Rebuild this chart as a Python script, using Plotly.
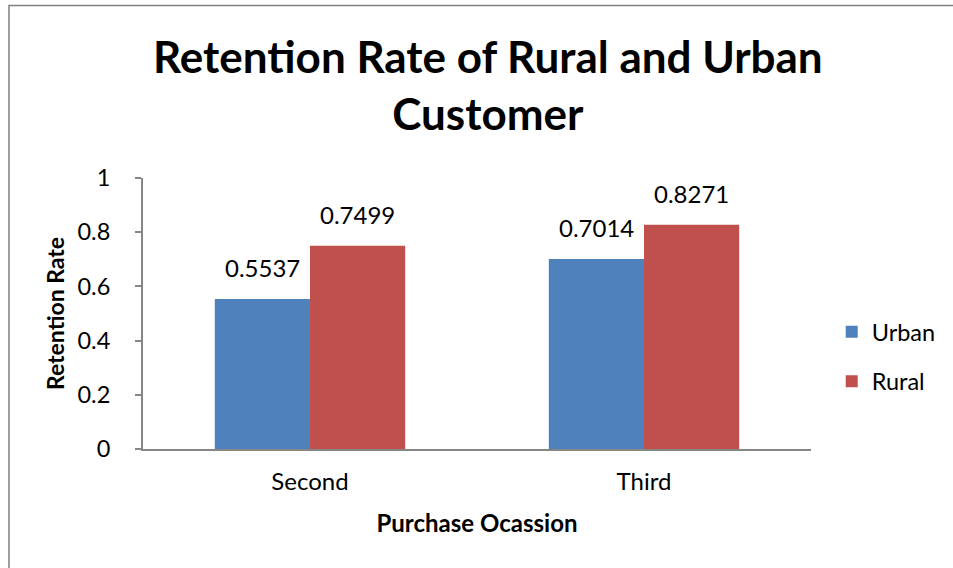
import plotly.graph_objects as go

# Data
occasions = ['Second', 'Third']
urban_rate = [0.5537, 0.7014]
rural_rate = [0.7499, 0.8271]
y_ticks = [0, 0.2, 0.4, 0.6, 0.8, 1]
y_tick_text = ['0', '0.2', '0.4', '0.6', '0.8', '1']

blue = '#4F81BD'
red = '#C0504D'
axis_grey = '#868686'
font_family = 'Lato, "Open Sans", sans-serif'

fig = go.Figure()
fig.add_trace(go.Bar(x=occasions, y=urban_rate, name='Urban', marker_color=blue,
                     marker_line_width=0, legendgroup='u'))
fig.add_trace(go.Bar(x=occasions, y=rural_rate, name='Rural', marker_color=red,
                     marker_line_width=0, legendgroup='r'))

# value labels above each bar
for vals, shift in [(urban_rate, -47.6), (rural_rate, 47.6)]:
    for cat, v in zip(occasions, vals):
        fig.add_annotation(x=cat, y=v, text=str(v), showarrow=False, xshift=shift,
                           yanchor='bottom', yshift=15,
                           font=dict(size=24, color='black', family=font_family))

# chart title (two lines, as in the original)
fig.add_annotation(xref='paper', yref='paper', x=0.517, y=1.345,
                   xanchor='center', yanchor='middle', showarrow=False,
                   text='<b>Retention Rate of Rural and Urban<br>Customer</b>',
                   font=dict(size=44, color='black', family=font_family))

fig.update_layout(
    width=953, height=568,
    paper_bgcolor='white', plot_bgcolor='white',
    margin=dict(l=143, r=142, t=178, b=119, autoexpand=False),
    barmode='group', bargap=0.43, bargroupgap=0,
    font=dict(family=font_family, color='black'),
    legend=dict(x=1.031, y=0.34, xanchor='left', yanchor='middle',
                font=dict(size=23.5), tracegroupgap=16, itemwidth=30),
    showlegend=True,
)

fig.update_xaxes(showline=True, linecolor=axis_grey, linewidth=2, ticks='',
                 tickfont=dict(size=24), ticklabelstandoff=10,
                 title=dict(text='<b>Purchase Ocassion</b>', font=dict(size=24), standoff=21))
fig.update_yaxes(range=[0, 1], tickvals=y_ticks, ticktext=y_tick_text,
                 showline=True, linecolor=axis_grey, linewidth=2,
                 ticks='outside', ticklen=6, tickcolor=axis_grey, tickwidth=1.5,
                 showgrid=False, zeroline=False, tickfont=dict(size=23.5),
                 ticklabelstandoff=20,
                 title=dict(text='<b>Retention Rate</b>', font=dict(size=23), standoff=6))

# outer chart frame
fig.add_shape(type='rect', xref='paper', yref='paper',
              x0=-0.2006, x1=1.3, y0=-0.6, y1=1.6365,
              line=dict(color='#7F7F7F', width=1.5), fillcolor='rgba(0,0,0,0)', layer='below')

# drop the browser's default page margin so the figure starts at the window corner
fig.write_html('out.html', config={'displayModeBar': False},
               post_script="document.body.style.margin='0';")
